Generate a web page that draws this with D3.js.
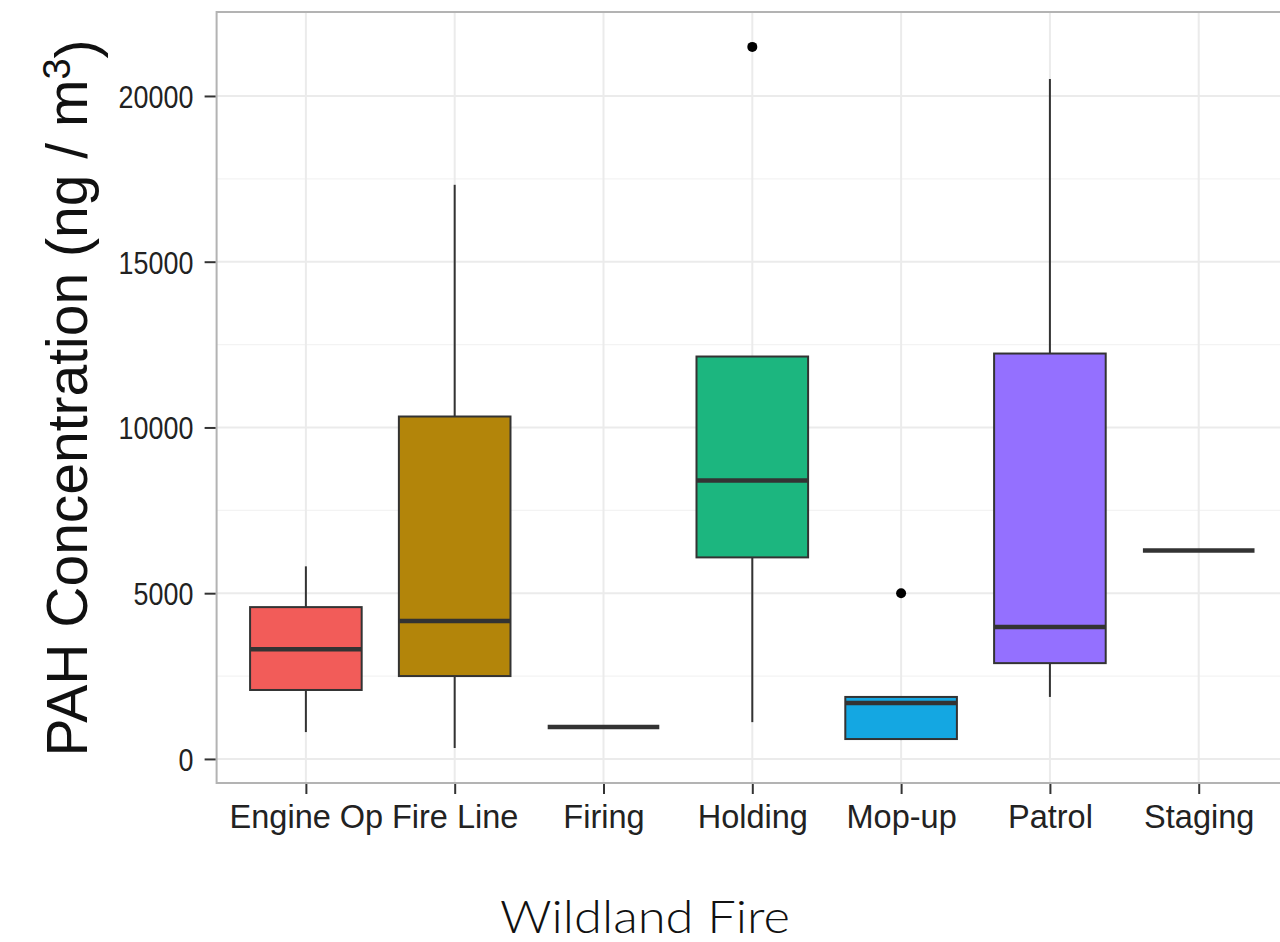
<!DOCTYPE html>
<html>
<head>
<meta charset="utf-8">
<script src="https://cdn.jsdelivr.net/npm/d3@7"></script>
<style>
  html, body { margin: 0; padding: 0; background: #fff; }
  svg { display: block; }
</style>
</head>
<body>
<svg id="chart" width="1280" height="942"></svg>
<script>
// ---- data ----
const categories = ["Engine Op", "Fire Line", "Firing", "Holding", "Mop-up", "Patrol", "Staging"];
const whiskerLow  = [810, 330, 960, 1110, 570, 1870, 6290];
const q1          = [2080, 2500, 960, 6080, 600, 2890, 6290];
const median      = [3310, 4160, 960, 8400, 1690, 3980, 6290];
const q3          = [4580, 10330, 960, 12140, 1870, 12230, 6290];
const whiskerHigh = [5810, 17320, 960, 12140, 1870, 20510, 6290];
const outliers    = [[], [], [], [21480], [5000], [], []];
const fillColors  = ["#F25C59", "#B3850A", "#53B400", "#1CB67F", "#14A7E2", "#9470FF", "#FB61D7"];
const yTicks      = [0, 5000, 10000, 15000, 20000];
const yMinorTicks = [2500, 7500, 12500, 17500];
const yDomain     = [-726, 22533];
const xTitle = "Wildland Fire";

// ---- layout ----
const svg = d3.select("#chart");
const panel = { left: 216.6, right: 1288, top: 12, bottom: 783 };

const x = d3.scalePoint().domain(categories).range([panel.left, panel.right]).padding(0.6);
const y = d3.scaleLinear().domain(yDomain).range([panel.bottom, panel.top]);
const boxW = x.step() * 0.75;

// grid
const g = svg.append("g");
g.selectAll(".minor").data(yMinorTicks).join("line")
  .attr("x1", panel.left).attr("x2", panel.right)
  .attr("y1", d => y(d)).attr("y2", d => y(d))
  .attr("stroke", "#f3f3f3").attr("stroke-width", 1.2);
g.selectAll(".major").data(yTicks).join("line")
  .attr("x1", panel.left).attr("x2", panel.right)
  .attr("y1", d => y(d)).attr("y2", d => y(d))
  .attr("stroke", "#ebebeb").attr("stroke-width", 2);
g.selectAll(".vmajor").data(categories).join("line")
  .attr("x1", d => x(d)).attr("x2", d => x(d))
  .attr("y1", panel.top).attr("y2", panel.bottom)
  .attr("stroke", "#ebebeb").attr("stroke-width", 2);

// boxes
const data = categories.map((c, i) => ({
  c, lo: whiskerLow[i], q1: q1[i], med: median[i], q3: q3[i], hi: whiskerHigh[i],
  out: outliers[i], fill: fillColors[i]
}));
const bg = svg.append("g");
const box = bg.selectAll("g.box").data(data).join("g").attr("class", "box");
box.append("line")
  .attr("x1", d => x(d.c)).attr("x2", d => x(d.c))
  .attr("y1", d => y(d.q3)).attr("y2", d => y(d.hi))
  .attr("stroke", "#333").attr("stroke-width", 2);
box.append("line")
  .attr("x1", d => x(d.c)).attr("x2", d => x(d.c))
  .attr("y1", d => y(d.q1)).attr("y2", d => y(d.lo))
  .attr("stroke", "#333").attr("stroke-width", 2);
box.append("rect")
  .attr("x", d => x(d.c) - boxW / 2).attr("width", boxW)
  .attr("y", d => y(d.q3)).attr("height", d => y(d.q1) - y(d.q3))
  .attr("fill", d => d.fill).attr("stroke", "#333").attr("stroke-width", 2);
box.append("line")
  .attr("x1", d => x(d.c) - boxW / 2).attr("x2", d => x(d.c) + boxW / 2)
  .attr("y1", d => y(d.med)).attr("y2", d => y(d.med))
  .attr("stroke", "#333").attr("stroke-width", 4.5);
box.selectAll("circle").data(d => d.out.map(v => ({ c: d.c, v }))).join("circle")
  .attr("cx", d => x(d.c)).attr("cy", d => y(d.v)).attr("r", 5)
  .attr("fill", "#000");

// panel border
svg.append("rect")
  .attr("x", panel.left).attr("y", panel.top)
  .attr("width", panel.right - panel.left).attr("height", panel.bottom - panel.top)
  .attr("fill", "none").attr("stroke", "#b3b3b3").attr("stroke-width", 2);

// axes
const yAxis = svg.append("g").attr("transform", `translate(${panel.left - 1},0)`)
  .call(d3.axisLeft(y).tickValues(yTicks).tickSize(11).tickFormat(d3.format("d")));
yAxis.select(".domain").remove();
yAxis.selectAll(".tick line").attr("stroke", "#333").attr("stroke-width", 2);
yAxis.selectAll(".tick text")
  .attr("fill", "#222").style("font-family", "'Liberation Sans', Arial, sans-serif")
  .style("font-size", "32px").attr("dy", "0.36em")
  .attr("x", -26.5).attr("transform", "scale(0.84,1)");

const xAxis = svg.append("g").attr("transform", `translate(0,${panel.bottom + 1})`)
  .call(d3.axisBottom(x).tickSize(10).tickPadding(11));
xAxis.select(".domain").remove();
xAxis.selectAll(".tick line").attr("stroke", "#333").attr("stroke-width", 2);
xAxis.selectAll(".tick text")
  .attr("fill", "#222").style("font-family", "'Liberation Sans', Arial, sans-serif")
  .style("font-size", "32.5px");

// axis titles
svg.append("text")
  .attr("x", 645).attr("y", 933)
  .attr("text-anchor", "middle")
  .attr("textLength", 290).attr("lengthAdjust", "spacingAndGlyphs")
  .style("font-family", "Lato, 'Open Sans', sans-serif")
  .style("font-weight", "300")
  .style("font-size", "45px").attr("fill", "#111")
  .text(xTitle);

const yt = svg.append("text")
  .attr("transform", "translate(87,398) rotate(-90)")
  .attr("text-anchor", "middle")
  .style("font-family", "'Liberation Sans', Arial, sans-serif")
  .style("font-size", "57px").attr("fill", "#111");
yt.append("tspan").text("PAH Concentration (ng / m");
yt.append("tspan").attr("dy", "-0.45em").style("font-size", "38px").text("3");
yt.append("tspan").attr("dy", "0.45em").text(")");
</script>
</body>
</html>
